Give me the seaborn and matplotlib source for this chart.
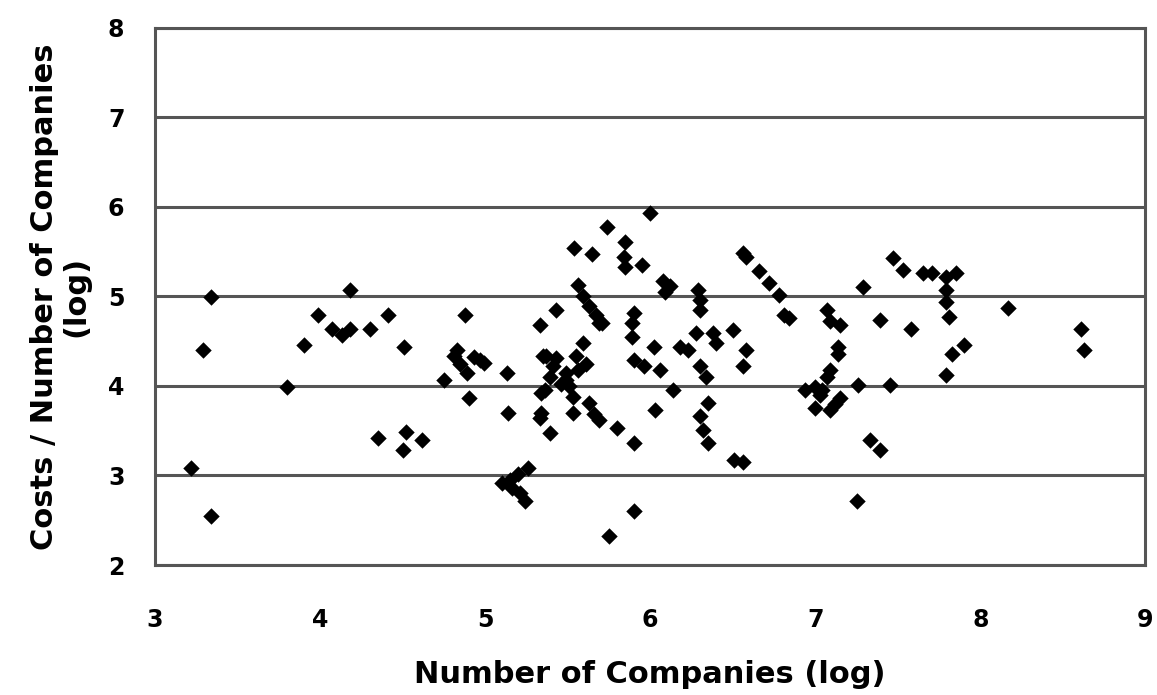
import matplotlib
matplotlib.use("Agg")
import matplotlib.pyplot as plt
import seaborn as sns
import pandas as pd

# Data (log number of companies, log costs per company)
x_vals = [
    3.22, 3.29, 3.34, 3.34, 3.80, 3.90, 3.99, 4.07, 4.13, 4.18, 4.18, 4.30, 4.41, 4.51,
    4.35, 4.52, 4.62, 4.50,
    4.75, 4.83, 4.85, 4.89, 4.88, 4.90, 4.97, 4.99, 4.81, 4.93,
    5.13, 5.14,
    5.10, 5.15, 5.20, 5.26, 5.16, 5.21, 5.24,
    5.59, 5.35, 5.43, 5.49, 5.34, 5.53, 5.63, 5.34, 5.53, 5.69, 5.80, 5.39, 5.66, 5.90, 5.49, 5.33,
    5.55, 5.61, 5.56, 5.37, 5.41, 5.39, 5.36, 5.46, 5.51,
    5.74, 5.85, 6.00, 5.54, 5.65, 5.84, 5.85, 5.95,
    6.56, 6.58, 6.66, 6.72, 6.78, 6.81, 6.84,
    6.08, 6.09, 6.12, 6.29, 6.30, 6.30,
    5.56, 5.59, 5.63, 5.67, 5.69, 5.43, 5.33,
    5.90, 5.89, 5.89, 5.71,
    6.02, 6.18, 6.28, 6.38, 6.40, 6.50, 6.58, 6.56, 5.90, 5.96, 6.06, 6.30, 6.34, 6.14, 6.23,
    6.03, 6.35, 6.30, 6.32, 6.35, 6.51, 6.56,
    5.90, 5.75,
    7.47, 7.53, 7.65, 7.71, 7.79, 7.85,
    7.79, 7.79, 7.81, 7.29, 8.17, 8.61, 8.63,
    7.07, 7.09, 7.15, 7.39, 7.58,
    7.90, 7.83, 7.79,
    7.14, 7.14, 7.09, 7.07,
    7.00, 7.04, 7.15, 7.00, 7.09, 7.03, 7.12,
    7.26, 7.45, 7.33, 7.39, 7.25, 6.94,
]
y_vals = [
    3.08, 4.40, 4.99, 2.55, 3.99, 4.46, 4.79, 4.64, 4.57, 4.64, 5.07, 4.64, 4.79, 4.43,
    3.42, 3.49, 3.40, 3.28,
    4.07, 4.40, 4.25, 4.14, 4.79, 3.86, 4.29, 4.26, 4.33, 4.32,
    4.14, 3.70,
    2.92, 2.95, 3.02, 3.08, 2.86, 2.80, 2.72,
    4.48, 4.33, 4.31, 4.14, 3.92, 3.88, 3.81, 3.70, 3.70, 3.62, 3.53, 3.47, 3.69, 3.36, 4.07, 3.64,
    4.33, 4.25, 4.18, 4.33, 4.22, 4.10, 3.96, 4.02, 4.00,
    5.78, 5.61, 5.93, 5.54, 5.47, 5.44, 5.33, 5.35,
    5.48, 5.44, 5.28, 5.15, 5.02, 4.79, 4.76,
    5.17, 5.05, 5.12, 5.07, 4.96, 4.85,
    5.13, 5.00, 4.89, 4.79, 4.70, 4.85, 4.68,
    4.82, 4.70, 4.55, 4.70,
    4.44, 4.44, 4.59, 4.59, 4.48, 4.63, 4.40, 4.22, 4.29, 4.22, 4.18, 4.22, 4.10, 3.96, 4.40,
    3.73, 3.81, 3.66, 3.51, 3.36, 3.17, 3.15,
    2.60, 2.32,
    5.43, 5.30, 5.26, 5.26, 5.22, 5.26,
    5.07, 4.94, 4.77, 5.11, 4.87, 4.64, 4.40,
    4.85, 4.72, 4.68, 4.74, 4.64,
    4.46, 4.36, 4.12,
    4.44, 4.36, 4.18, 4.10,
    3.99, 3.96, 3.86, 3.75, 3.73, 3.90, 3.80,
    4.01, 4.01, 3.40, 3.28, 2.71, 3.96,
]

x_ticks = [3, 4, 5, 6, 7, 8, 9]
y_ticks = [2, 3, 4, 5, 6, 7, 8]

df = pd.DataFrame({"companies": x_vals, "costs": y_vals})

sns.set_theme(style="white")
plt.rcParams["font.family"] = ["DejaVu Sans"]
plt.rcParams["text.color"] = "black"
plt.rcParams["axes.labelcolor"] = "black"
plt.rcParams["xtick.color"] = "black"
plt.rcParams["ytick.color"] = "black"

fig = plt.figure(figsize=(11.57, 6.95), dpi=100)
ax = fig.add_axes([0.134, 0.187, 0.856, 0.773])

sns.scatterplot(data=df, x="companies", y="costs", marker="D", s=70,
                color="black", edgecolor="black", linewidth=0, ax=ax, zorder=3)

ax.set_xlim(3, 9)
ax.set_ylim(2, 8)
ax.set_xticks(x_ticks)
ax.set_yticks(y_ticks)
ax.set_xticklabels([str(t) for t in x_ticks], fontsize=17, fontweight="bold", color="black")
ax.set_yticklabels([str(t) for t in y_ticks], fontsize=17, fontweight="bold", color="black")

ax.grid(axis="y", color="#555555", linewidth=2.2, zorder=0)
ax.grid(axis="x", visible=False)
for side in ["left", "bottom", "right", "top"]:
    ax.spines[side].set_visible(True)
    ax.spines[side].set_color("#555555")
    ax.spines[side].set_linewidth(2.2)

ax.tick_params(axis="x", direction="out", length=6, width=1.5, color="#555555", pad=25)
ax.tick_params(axis="y", direction="out", length=6, width=1.5, color="#555555", pad=16)

ax.set_xlabel("Number of Companies (log)", fontsize=22, fontweight="bold",
              labelpad=20, color="black")
ax.set_ylabel("Costs / Number of Companies\n(log)", fontsize=22, fontweight="bold",
              labelpad=13, linespacing=1.1, color="black")

fig.savefig("out.png", dpi=100, facecolor="white")
